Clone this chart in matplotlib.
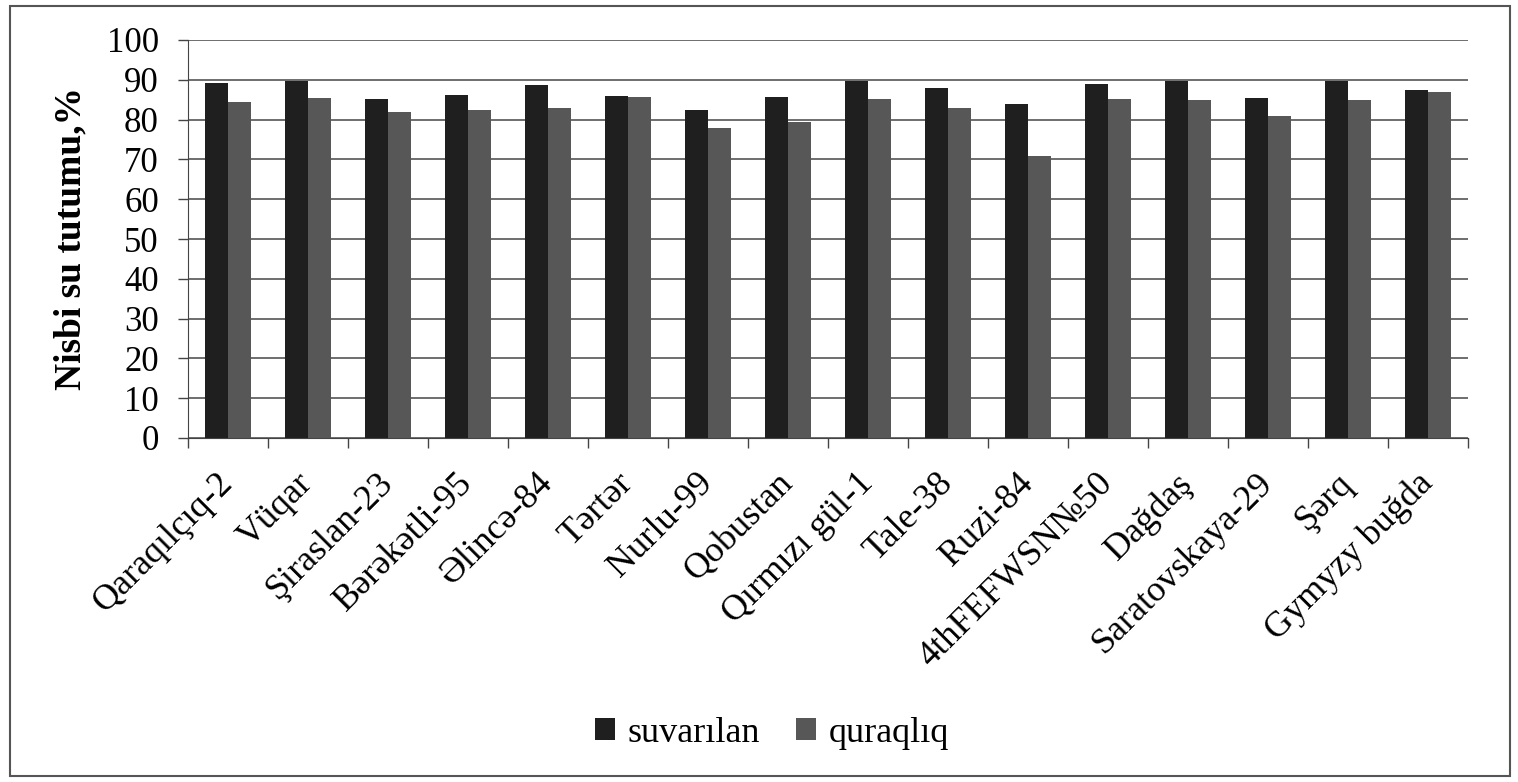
import matplotlib
matplotlib.use("Agg")
import matplotlib.pyplot as plt
import numpy as np
from matplotlib.patches import Rectangle

categories = ["Qaraqılçıq-2", "Vüqar", "Şiraslan-23", "Bərəkətli-95", "Əlincə-84",
              "Tərtər", "Nurlu-99", "Qobustan", "Qırmızı gül-1", "Tale-38",
              "Ruzi-84", "4thFEFWSN№50", "Dağdaş", "Saratovskaya-29", "Şərq",
              "Gymyzy buğda"]
suvarilan = [89.3, 89.8, 85.2, 86.2, 88.8, 86.0, 82.3, 85.6, 89.6, 88.0,
             84.0, 89.0, 89.6, 85.5, 89.8, 87.5]
quraqliq = [84.4, 85.4, 81.8, 82.5, 83.0, 85.6, 77.8, 79.5, 85.3, 83.0,
            70.8, 85.3, 85.0, 80.8, 84.8, 87.0]
series_names = ["suvarılan", "quraqlıq"]
yticks = list(range(0, 101, 10))

plt.rcParams['font.family'] = ['Liberation Serif', 'DejaVu Serif']

fig = plt.figure(figsize=(15.18, 7.82), dpi=100)
ax = fig.add_axes([188/1518, 1-438/782, (1468-188)/1518, (438-40)/782])

x = np.arange(len(categories))
w = 0.29
ax.bar(x - w/2, suvarilan, w, color="#1f1f1f", label=series_names[0], zorder=3)
ax.bar(x + w/2, quraqliq, w, color="#575757", label=series_names[1], zorder=3)

ax.set_xlim(-0.5, len(categories) - 0.5)
ax.set_ylim(0, 100)
ax.set_yticks(yticks)
ax.tick_params(axis='y', labelsize=25, length=7, width=1, direction='out', pad=14,
               color="#444444")
ax.yaxis.grid(True, color="#555555", linewidth=1.2, zorder=0)
ax.set_axisbelow(True)

ax.set_xticks(np.arange(len(categories)+1) - 0.5, minor=False)
ax.set_xticklabels([])
ax.tick_params(axis='x', length=7, width=1, direction='out', color="#444444")
ax.set_xticks(x, minor=True)
ax.set_xticklabels(categories, minor=True, rotation=45, ha='right', va='center',
                   rotation_mode='anchor', fontsize=26)
ax.tick_params(axis='x', which='minor', length=0, pad=29)

for s in ['top', 'right']:
    ax.spines[s].set_visible(False)
ax.spines['left'].set_color("#444444")
ax.spines['bottom'].set_color("#444444")

ax.set_ylabel("Nisbi su tutumu,%", fontsize=27, fontweight='bold')
ax.yaxis.set_label_coords((88-188)/1280, 0.5)

fig.legend(loc='center', bbox_to_anchor=(772/1518, 1-733/782), ncol=2, frameon=False,
           fontsize=26, handlelength=0.55, handleheight=0.55, handletextpad=0.35,
           columnspacing=1.0)

fig.patches.append(Rectangle((10/1518, 6/782), 1500/1518, 770/782, transform=fig.transFigure,
                             fill=False, edgecolor="#555555", linewidth=1.5))

fig.savefig("out.png", dpi=100, facecolor="white")
